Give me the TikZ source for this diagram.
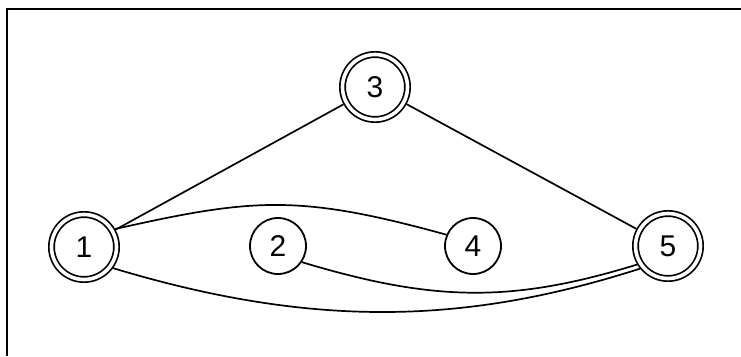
\documentclass[tikz,border=0pt]{standalone}
\usepackage{fontspec}
\setmainfont{Liberation Sans}
\begin{document}
\begin{tikzpicture}[x=1pt,y=-1pt,
  every node/.style={font=\fontsize{30}{36}\selectfont},
  snode/.style={circle, draw, line width=1.8pt, minimum size=56pt, inner sep=0pt},
  dnode/.style={circle, draw, line width=1.7pt, double, double distance=3.6pt, minimum size=65pt, inner sep=0pt, outer sep=3.5pt},
  edge/.style={line width=1.7pt}]
\useasboundingbox (0,0) rectangle (741,356);
\draw[line width=2pt] (741,9) -- (7,9) -- (7,356);
\node[dnode] (n1) at (84,247) {1};
\node[snode] (n2) at (278,246) {2};
\node[dnode] (n3) at (375,87) {3};
\node[snode] (n4) at (473,246) {4};
\node[dnode] (n5) at (668,246) {5};
\draw[edge] (n1) -- (n3);
\draw[edge] (n3) -- (n5);
\draw[edge] (n1.30) .. controls (253,198) and (299,194) .. (n4.157);
\draw[edge] (n1.-36) .. controls (318,330) and (470,323) .. (n5.-141);
\draw[edge] (n2.-34) .. controls (434,302) and (512,303) .. (n5.-149);
\end{tikzpicture}
\end{document}
